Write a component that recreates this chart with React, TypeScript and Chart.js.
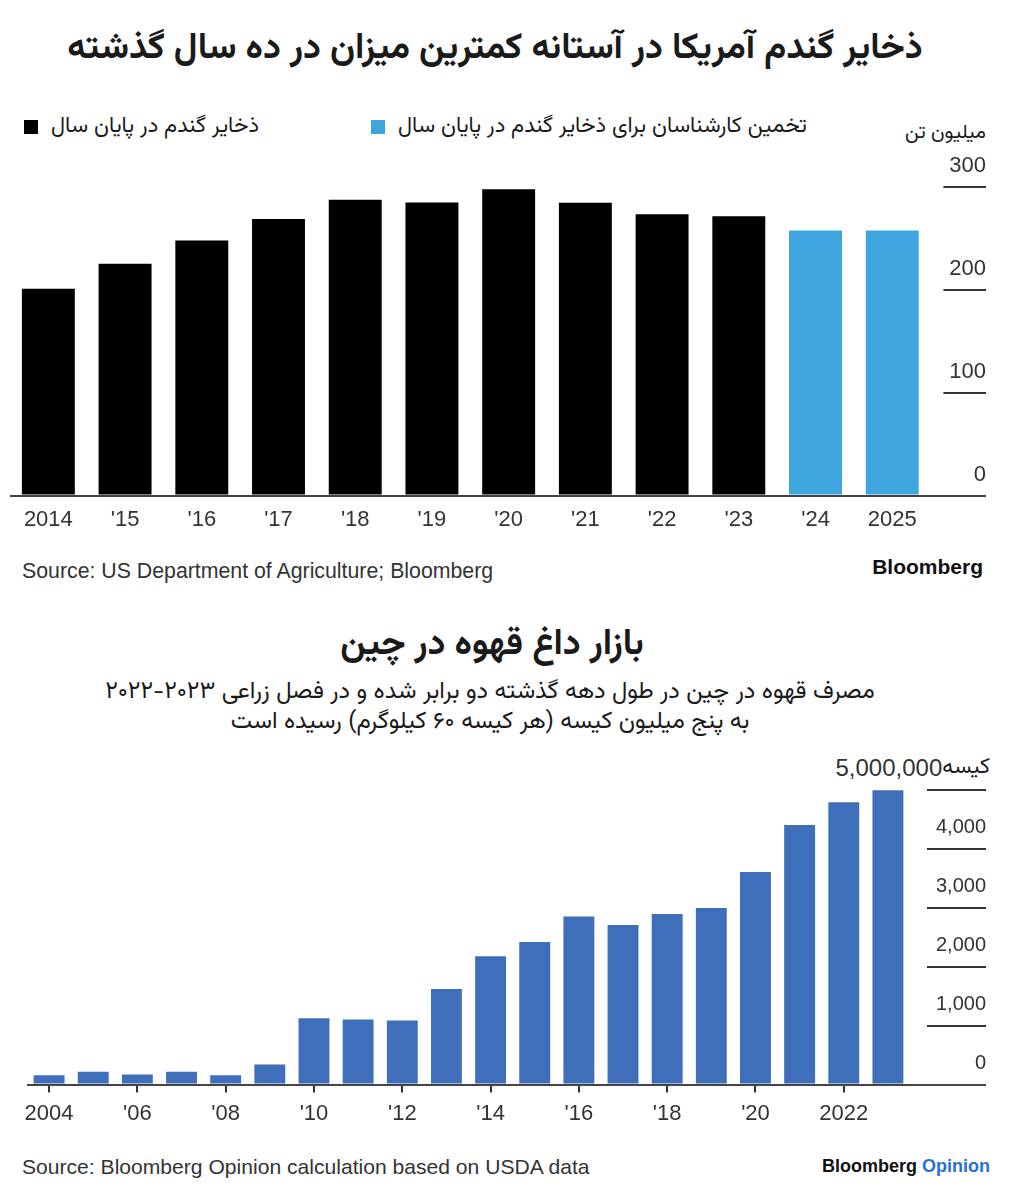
import React, { useEffect, useRef } from "react";
import { Chart, registerables } from "chart.js";

Chart.register(...registerables);

// ---------- Data: wheat stocks (million tonnes) ----------
const wheatLabels = ["2014", "'15", "'16", "'17", "'18", "'19", "'20", "'21", "'22", "'23", "'24", "2025"];
const wheatStocks = [201, 225.5, 248, 269, 287.7, 285, 297.8, 284.8, 273.4, 271.5, 257.8, 257.8];
const wheatIsEstimate = [false, false, false, false, false, false, false, false, false, false, true, true];
const wheatTicks = [0, 100, 200, 300];

// ---------- Data: China coffee consumption (thousand 60kg bags) ----------
const coffeeLabels = [
  "2004", "'05", "'06", "'07", "'08", "'09", "'10", "'11", "'12", "'13",
  "'14", "'15", "'16", "'17", "'18", "'19", "'20", "'21", "2022", "'23",
];
const coffeeBags = [160, 217, 171, 217, 160, 342, 1128, 1106, 1089, 1624, 2178, 2422, 2855, 2708, 2896, 2998, 3607, 4405, 4793, 4995];
const coffeeTickValues = [0, 1000, 2000, 3000, 4000, 5000];
const coffeeTickLabels = ["0", "1,000", "2,000", "3,000", "4,000", ""];
const coffeeTopLabel = "5,000,000";
const coffeeUnit = "کیسه";

const LATIN = '"Liberation Sans", Arial, sans-serif';
const PERSIAN = '"Vazirmatn", "Noto Sans Arabic", "Noto Naskh Arabic", "DejaVu Sans", sans-serif';

function measureWidest(texts: string[], size: number): number {
  const c = document.createElement("canvas");
  const ctx = c.getContext("2d")!;
  ctx.font = `normal ${size}px ${LATIN}`;
  return Math.max(...texts.map((t) => ctx.measureText(t).width));
}

function WheatChart() {
  const ref = useRef<HTMLCanvasElement | null>(null);
  useEffect(() => {
    const ySize = 22;
    const widest = measureWidest(wheatTicks.map(String), ySize);
    const axisWidth = 55.4;
    const gap = 12.4;
    const chart = new Chart(ref.current!, {
      type: "bar",
      data: {
        labels: wheatLabels,
        datasets: [
          {
            data: wheatStocks,
            backgroundColor: wheatIsEstimate.map((e) => (e ? "#3ea5de" : "#000000")),
            barPercentage: 0.69,
            categoryPercentage: 1,
          },
        ],
      },
      options: {
        animation: false,
        responsive: false,
        maintainAspectRatio: false,
        layout: { padding: { left: 10, right: 27, top: 37, bottom: 4 } },
        plugins: { legend: { display: false }, tooltip: { enabled: false } },
        scales: {
          x: {
            grid: { display: false, drawTicks: false },
            border: { display: false },
            ticks: {
              color: "#333",
              font: { family: LATIN, size: 22 },
              padding: 11,
              autoSkip: false,
              maxRotation: 0,
            },
          },
          y: {
            position: "right",
            min: 0,
            max: 300,
            border: { display: false },
            afterFit: (scale: any) => {
              scale.width = axisWidth;
            },
            afterBuildTicks: (scale: any) => {
              scale.ticks = wheatTicks.map((v) => ({ value: v }));
            },
            grid: {
              drawOnChartArea: true,
              drawTicks: true,
              tickLength: axisWidth,
              lineWidth: 2,
              color: (ctx: any) => (ctx.tick && ctx.tick.value === 0 ? "#444" : "rgba(0,0,0,0)"),
              tickColor: (ctx: any) => (ctx.tick && ctx.tick.value === 0 ? "#444" : "#333"),
              tickBorderDash: (ctx: any) => (ctx.tick && ctx.tick.value === 0 ? [] : [0, gap, 200]),
            },
            ticks: {
              color: "#333",
              font: { family: LATIN, size: ySize },
              crossAlign: "far",
              padding: -widest,
              labelOffset: -21,
              callback: (v: any) => String(v),
            },
          },
        },
      },
    });
    return () => chart.destroy();
  }, []);
  return <canvas ref={ref} width={1013} height={398} style={{ position: "absolute", left: 0, top: 150, width: 1013, height: 398 }} />;
}

function CoffeeChart() {
  const ref = useRef<HTMLCanvasElement | null>(null);
  useEffect(() => {
    const ySize = 20;
    const widest = measureWidest(coffeeTickLabels, ySize);
    const axisWidth = 76;
    const gap = 17;
    const chart = new Chart(ref.current!, {
      type: "bar",
      data: {
        labels: coffeeLabels,
        datasets: [
          {
            data: coffeeBags,
            backgroundColor: "#3f6fba",
            barPercentage: 0.7,
            categoryPercentage: 1,
          },
        ],
      },
      options: {
        animation: false,
        responsive: false,
        maintainAspectRatio: false,
        layout: { padding: { left: 27, right: 27, top: 40, bottom: 4 } },
        plugins: { legend: { display: false }, tooltip: { enabled: false } },
        scales: {
          x: {
            border: { display: false },
            grid: {
              drawOnChartArea: false,
              drawTicks: true,
              tickLength: 8,
              offset: false,
              lineWidth: 2,
              tickColor: (ctx: any) => (ctx.index % 2 === 0 ? "#333" : "rgba(0,0,0,0)"),
            },
            ticks: {
              color: "#333",
              font: { family: LATIN, size: 22 },
              padding: 8,
              autoSkip: false,
              maxRotation: 0,
              callback: (_v: any, i: number) => (i % 2 === 0 ? coffeeLabels[i] : ""),
            },
          },
          y: {
            position: "right",
            min: 0,
            max: 5000,
            border: { display: false },
            afterFit: (scale: any) => {
              scale.width = axisWidth;
            },
            afterBuildTicks: (scale: any) => {
              scale.ticks = coffeeTickValues.map((v) => ({ value: v }));
            },
            grid: {
              drawOnChartArea: true,
              drawTicks: true,
              tickLength: axisWidth,
              lineWidth: 2,
              color: (ctx: any) => (ctx.tick && ctx.tick.value === 0 ? "#444" : "rgba(0,0,0,0)"),
              tickColor: (ctx: any) => (ctx.tick && ctx.tick.value === 0 ? "#444" : "#333"),
              tickBorderDash: (ctx: any) => (ctx.tick && ctx.tick.value === 0 ? [] : [0, gap, 200]),
            },
            ticks: {
              color: "#333",
              font: { family: LATIN, size: ySize },
              crossAlign: "far",
              padding: -widest,
              labelOffset: -21,
              callback: (v: any) => {
                const i = coffeeTickValues.indexOf(Number(v));
                return i >= 0 ? coffeeTickLabels[i] : "";
              },
            },
          },
        },
      },
    });
    return () => chart.destroy();
  }, []);
  return <canvas ref={ref} width={1013} height={389} style={{ position: "absolute", left: 0, top: 750, width: 1013, height: 389 }} />;
}

const abs = (s: React.CSSProperties): React.CSSProperties => ({ position: "absolute", margin: 0, whiteSpace: "nowrap", ...s });

export default function App() {
  return (
    <div style={{ position: "absolute", left: 0, top: 0, width: 1013, height: 1200, background: "#fff", overflow: "hidden", color: "#1a1a1a" }}>
      {/* Top chart header */}
      <div dir="rtl" style={abs({ left: 0, width: 990, top: 24, textAlign: "center", fontFamily: PERSIAN, fontWeight: 700, fontSize: 36, lineHeight: "50px" })}>
        ذخایر گندم آمریکا در آستانه کمترین میزان در ده سال گذشته
      </div>
      <div style={abs({ left: 24, top: 111, display: "flex", alignItems: "center", gap: 13 })}>
        <span style={{ width: 14, height: 14, background: "#000", display: "inline-block" }} />
        <span dir="rtl" style={{ fontFamily: PERSIAN, fontSize: 22, lineHeight: "32px", color: "#1a1a1a" }}>ذخایر گندم در پایان سال</span>
      </div>
      <div style={abs({ left: 371, top: 111, display: "flex", alignItems: "center", gap: 13 })}>
        <span style={{ width: 14, height: 14, background: "#3ea5de", display: "inline-block" }} />
        <span dir="rtl" style={{ fontFamily: PERSIAN, fontSize: 22, lineHeight: "32px", color: "#1a1a1a" }}>تخمین کارشناسان برای ذخایر گندم در پایان سال</span>
      </div>
      <div dir="rtl" style={abs({ right: 27, top: 117, fontFamily: PERSIAN, fontSize: 20, lineHeight: "32px", color: "#1a1a1a" })}>میلیون تن</div>

      <WheatChart />

      <div style={abs({ left: 22, top: 558, fontFamily: LATIN, fontSize: 21.3, lineHeight: "26px", color: "#333" })}>
        Source: US Department of Agriculture; Bloomberg
      </div>
      <div style={abs({ right: 30, top: 554, fontFamily: LATIN, fontSize: 21, fontWeight: 700, lineHeight: "26px", color: "#111" })}>Bloomberg</div>

      {/* Bottom chart header */}
      <div dir="rtl" style={abs({ left: 0, width: 984, top: 620, textAlign: "center", fontFamily: PERSIAN, fontWeight: 700, fontSize: 36, lineHeight: "50px" })}>
        بازار داغ قهوه در چین
      </div>
      <div dir="rtl" style={abs({ left: 0, width: 980, top: 676, textAlign: "center", fontFamily: PERSIAN, fontSize: 24, lineHeight: "32px" })}>
        مصرف قهوه در چین در طول دهه گذشته دو برابر شده و در فصل زراعی ۲۰۲۳-۲۰۲۲
      </div>
      <div dir="rtl" style={abs({ left: 0, width: 980, top: 706, textAlign: "center", fontFamily: PERSIAN, fontSize: 24, lineHeight: "32px" })}>
        به پنج میلیون کیسه (هر کیسه ۶۰ کیلوگرم) رسیده است
      </div>

      <div style={abs({ right: 23, top: 754, display: "flex", alignItems: "center", lineHeight: "28px" })}>
        <span style={{ fontFamily: LATIN, fontSize: 24, color: "#333" }}>{coffeeTopLabel}</span>
        <span dir="rtl" style={{ fontFamily: PERSIAN, fontSize: 22, color: "#1a1a1a" }}>{coffeeUnit}</span>
      </div>

      <CoffeeChart />

      <div style={abs({ left: 22, top: 1154, fontFamily: LATIN, fontSize: 21.1, lineHeight: "26px", color: "#333" })}>
        Source: Bloomberg Opinion calculation based on USDA data
      </div>
      <div style={abs({ right: 23, top: 1153, fontFamily: LATIN, fontSize: 18, fontWeight: 700, lineHeight: "26px", color: "#111" })}>
        Bloomberg <span style={{ color: "#2a6fd1", fontWeight: 600 }}>Opinion</span>
      </div>
    </div>
  );
}
